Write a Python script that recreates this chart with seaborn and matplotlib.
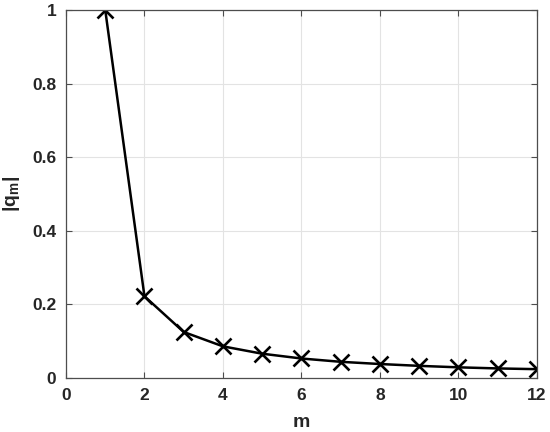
import matplotlib
matplotlib.use("Agg")
import matplotlib.pyplot as plt
import seaborn as sns
import pandas as pd

m_values = [1, 2, 3, 4, 5, 6, 7, 8, 9, 10, 11, 12]
q_abs = [1.0, 0.222, 0.125, 0.086, 0.066, 0.053, 0.044, 0.038, 0.033, 0.029, 0.026, 0.024]
x_ticks = [0, 2, 4, 6, 8, 10, 12]
y_ticks = [0, 0.2, 0.4, 0.6, 0.8, 1]
y_tick_labels = ["0", "0.2", "0.4", "0.6", "0.8", "1"]

sns.set_theme(style="white")
plt.rcParams['font.family'] = ['Liberation Sans', 'DejaVu Sans']
plt.rcParams['mathtext.fontset'] = 'custom'
plt.rcParams['mathtext.rm'] = 'Liberation Sans:bold'
plt.rcParams['mathtext.it'] = 'Liberation Sans:bold'
plt.rcParams['mathtext.bf'] = 'Liberation Sans:bold'

df = pd.DataFrame({"m": m_values, "q": q_abs})

fig = plt.figure(figsize=(5.5, 4.32), dpi=100)
ax = fig.add_axes([0.12, 0.125, 0.856, 0.852])

sns.lineplot(data=df, x="m", y="q", ax=ax, color="black", linewidth=1.8,
             marker="x", markersize=11, markeredgewidth=1.9, markeredgecolor="black")

ax.set_xlim(0, 12)
ax.set_ylim(0, 1)
ax.set_xticks(x_ticks)
ax.set_xticklabels([str(t) for t in x_ticks])
ax.set_yticks(y_ticks)
ax.set_yticklabels(y_tick_labels)
ax.grid(True, color="#e3e3e3", linewidth=0.8)
ax.set_axisbelow(True)
for s in ax.spines.values():
    s.set_visible(True)
    s.set_color("#4d4d4d")
    s.set_linewidth(0.9)
ax.tick_params(direction="in", length=4, width=0.8, color="#4d4d4d",
               labelsize=12.5, top=True, right=True, bottom=True, left=True, pad=7)
for lab in ax.get_xticklabels() + ax.get_yticklabels():
    lab.set_fontweight("bold")
    lab.set_color("#262626")
ax.set_xlabel("m", fontsize=14, fontweight="bold", color="#262626", labelpad=8)
ax.set_ylabel(r"|q$_{\mathrm{m}}$|", fontsize=14, fontweight="bold", color="#262626", labelpad=7)

fig.savefig("out.png", dpi=100)
